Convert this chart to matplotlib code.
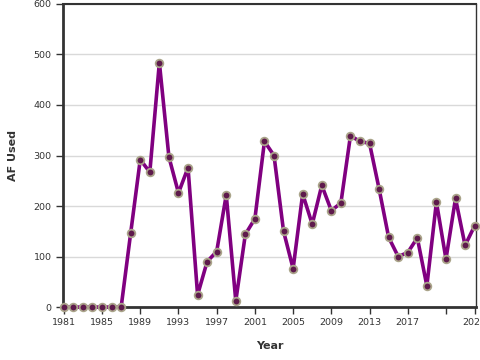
import numpy as np
import matplotlib
matplotlib.use("Agg")
import matplotlib.pyplot as plt

# data
years = list(range(1981, 2025))
af_used = [0, 0, 0, 0, 0, 0, 0, 147, 292, 267, 484, 297, 226, 276,
           24, 90, 110, 222, 12, 144, 175, 328, 300, 150, 76, 224,
           164, 241, 191, 206, 339, 328, 324, 234, 138, 100, 108, 137,
           42, 208, 95, 215, 122, 161]
tick_years = [1981, 1985, 1989, 1993, 1997, 2001, 2005, 2009, 2013, 2017, 2021, 2024]
tick_labels = ["1981", "1985", "1989", "1993", "1997", "2001", "2005", "2009",
               "2013", "2017", "", "2024"]

fig = plt.figure(figsize=(4.8, 3.6), dpi=100)
ax = fig.add_axes([0.131, 0.147, 0.861, 0.842])

ax.plot(years, af_used, color="#800080", lw=2.6, zorder=3,
        marker="o", ms=5.5, mfc="#5e1a4c", mec="#aaa48a", mew=1.3, clip_on=False)

ax.set_xlim(1980.9, 2024.16)
ax.set_ylim(0, 600)
ax.set_yticks(np.arange(0, 601, 100))
ax.set_xticks(tick_years)
ax.set_xticklabels(tick_labels)

ax.grid(axis="y", color="#d9d9d9", lw=1)
ax.set_axisbelow(True)

for s in ["left", "bottom"]:
    ax.spines[s].set_linewidth(2)
    ax.spines[s].set_color("#333333")
ax.spines["top"].set_linewidth(1.5)
ax.spines["top"].set_color("#333333")
ax.spines["right"].set_linewidth(1)
ax.spines["right"].set_color("#333333")

ax.tick_params(axis="both", length=5, width=1, color="#333333",
               labelsize=6.8, labelcolor="#333333", pad=3)

ax.set_xlabel("Year", fontsize=8, fontweight="bold", color="#333333", labelpad=10)
ax.set_ylabel("AF Used", fontsize=8, fontweight="bold", color="#333333", labelpad=11)

fig.savefig("out.png", dpi=100)
